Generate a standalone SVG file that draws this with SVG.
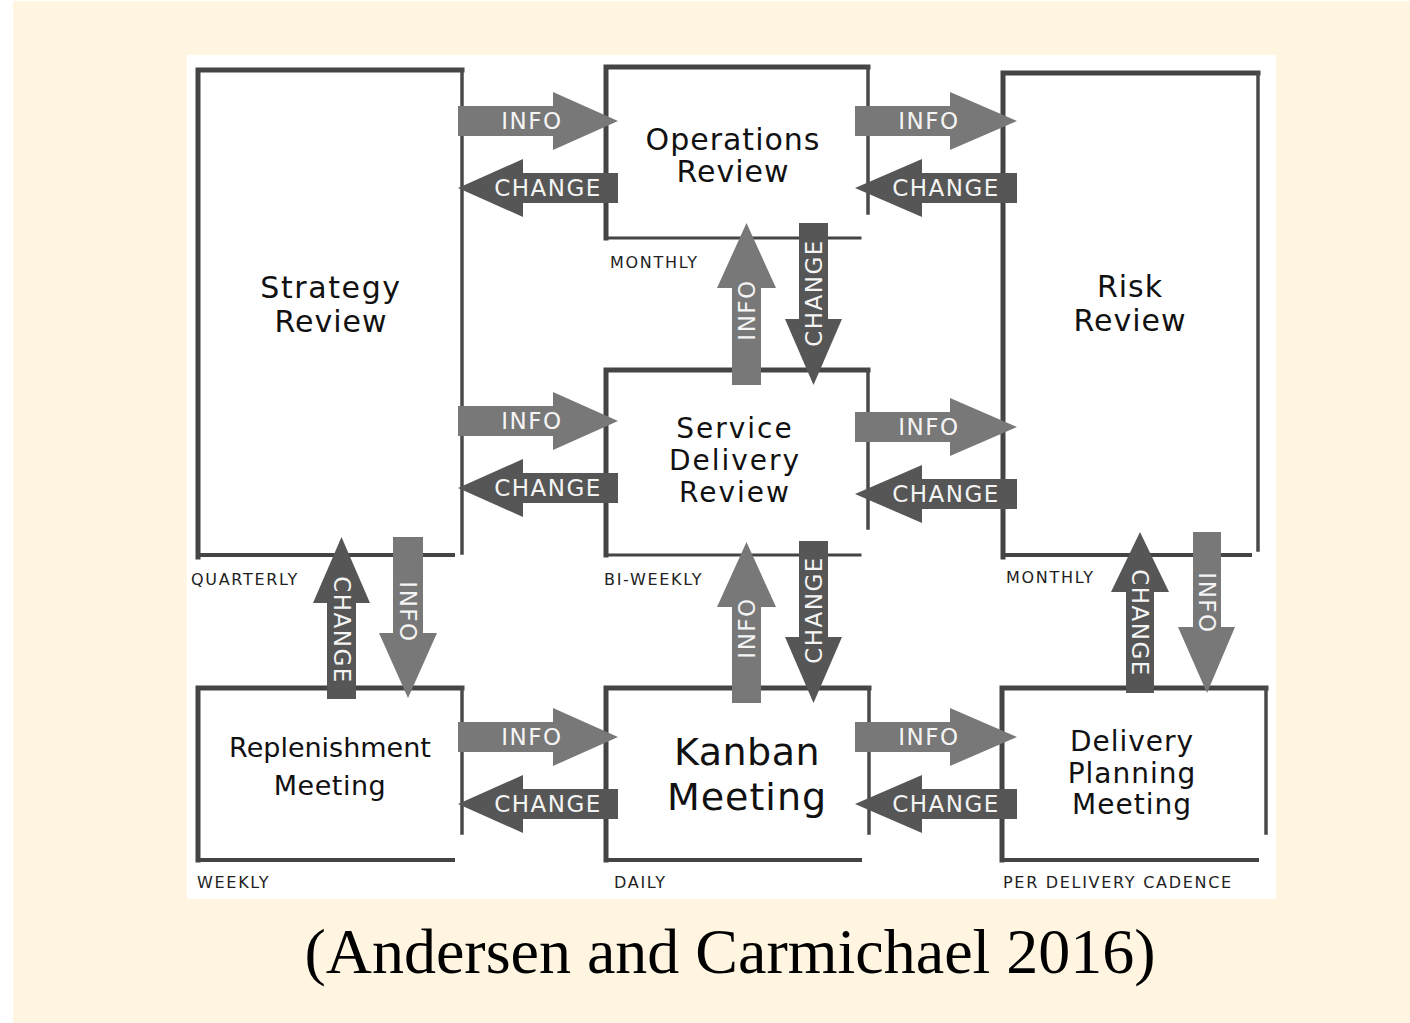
<svg xmlns="http://www.w3.org/2000/svg" width="1410" height="1023" viewBox="0 0 1410 1023">
<style>
.edge{fill:none;stroke:#444;stroke-linecap:square}
.tl{stroke-width:5}
.rt{stroke-width:3.5;stroke:#4a4a4a}
.bt{stroke-width:4}
.title{font-family:"DejaVu Sans",sans-serif;font-size:30px;fill:#111;text-anchor:middle;letter-spacing:1px}
.freq{font-family:"DejaVu Sans",sans-serif;font-size:16px;fill:#222;letter-spacing:1.7px}
.info{fill:#787878}
.chg{fill:#565656}
.lab{font-family:"DejaVu Sans",sans-serif;font-size:23px;fill:#f4f4f4;text-anchor:middle;letter-spacing:1.5px}
</style>
<rect x="0" y="0" width="1410" height="1023" fill="#ffffff"/>
<rect x="13" y="1" width="1397" height="1022" fill="#fff5e1"/>
<rect x="187" y="55" width="1089" height="844" fill="#ffffff"/>

<g id="strategy-review">
<path class="edge tl" d="M198,557 L198,70 L462,70"/>
<path class="edge rt" d="M462,70 L462,553"/>
<path class="edge bt" d="M198,555 L453,555"/>
<text class="title" style="letter-spacing:1.6px" x="331" y="298">Strategy</text>
<text class="title" x="331" y="332">Review</text>
<text class="freq" x="191" y="585">QUARTERLY</text>
</g>

<g id="operations-review">
<path class="edge tl" d="M606,238 L606,67 L868,67"/>
<path class="edge rt" d="M868,67 L868,213"/>
<path class="edge bt" style="stroke-width:3" d="M606,238 L860,238"/>
<text class="title" x="733" y="150">Operations</text>
<text class="title" x="733" y="182">Review</text>
<text class="freq" x="610" y="268">MONTHLY</text>
</g>

<g id="risk-review">
<path class="edge tl" d="M1003,557 L1003,73 L1258,73"/>
<path class="edge rt" d="M1258,73 L1258,550"/>
<path class="edge bt" d="M1003,555 L1250,555"/>
<text class="title" x="1130" y="297">Risk</text>
<text class="title" x="1130" y="331">Review</text>
<text class="freq" x="1006" y="583">MONTHLY</text>
</g>

<g id="service-delivery-review">
<path class="edge tl" d="M606,555 L606,370 L868,370"/>
<path class="edge rt" d="M868,370 L868,528"/>
<path class="edge bt" style="stroke-width:3" d="M606,555 L860,555"/>
<text class="title" style="font-size:28px;letter-spacing:2px" x="735" y="438">Service</text>
<text class="title" style="font-size:28px;letter-spacing:2px" x="735" y="470">Delivery</text>
<text class="title" style="font-size:28px;letter-spacing:2px" x="735" y="502">Review</text>
<text class="freq" x="604" y="585">BI-WEEKLY</text>
</g>

<g id="replenishment-meeting">
<path class="edge tl" d="M198,860 L198,688 L462,688"/>
<path class="edge rt" d="M462,688 L462,833"/>
<path class="edge bt" d="M198,860 L453,860"/>
<text class="title" style="font-size:27px;letter-spacing:0px" x="330" y="757">Replenishment</text>
<text class="title" style="font-size:27px;letter-spacing:0.5px" x="330" y="795">Meeting</text>
<text class="freq" x="197" y="888">WEEKLY</text>
</g>

<g id="kanban-meeting">
<path class="edge tl" d="M606,860 L606,688 L869,688"/>
<path class="edge rt" d="M869,688 L869,833"/>
<path class="edge bt" d="M606,860 L860,860"/>
<text class="title" style="font-size:38px;letter-spacing:0.5px" x="747" y="765">Kanban</text>
<text class="title" style="font-size:38px;letter-spacing:1px" x="747" y="810">Meeting</text>
<text class="freq" x="614" y="888">DAILY</text>
</g>

<g id="delivery-planning-meeting">
<path class="edge tl" d="M1002,860 L1002,688 L1266,688"/>
<path class="edge rt" d="M1266,688 L1266,833"/>
<path class="edge bt" d="M1002,860 L1257,860"/>
<text class="title" style="font-size:28px;letter-spacing:1px" x="1132" y="751">Delivery</text>
<text class="title" style="font-size:28px;letter-spacing:1px" x="1132" y="783">Planning</text>
<text class="title" style="font-size:28px;letter-spacing:1px" x="1132" y="814">Meeting</text>
<text class="freq" x="1003" y="888">PER DELIVERY CADENCE</text>
</g>

<g id="connectors">
<polygon class="info" points="458,106 553,106 553,92 618,121 553,150 553,136 458,136"/>
<text class="lab" x="532" y="129">INFO</text>
<polygon class="chg" points="458,188 523,159 523,173 618,173 618,203 523,203 523,217"/>
<text class="lab" x="548" y="196">CHANGE</text>
<polygon class="info" points="458,406 553,406 553,392 618,421 553,450 553,436 458,436"/>
<text class="lab" x="532" y="429">INFO</text>
<polygon class="chg" points="458,488 523,459 523,473 618,473 618,503 523,503 523,517"/>
<text class="lab" x="548" y="496">CHANGE</text>
<polygon class="info" points="458,722 553,722 553,708 618,737 553,766 553,752 458,752"/>
<text class="lab" x="532" y="745">INFO</text>
<polygon class="chg" points="458,804 523,775 523,789 618,789 618,819 523,819 523,833"/>
<text class="lab" x="548" y="812">CHANGE</text>
<polygon class="info" points="855,106 950,106 950,92 1017,121 950,150 950,136 855,136"/>
<text class="lab" x="929" y="129">INFO</text>
<polygon class="chg" points="855,188 922,159 922,173 1017,173 1017,203 922,203 922,217"/>
<text class="lab" x="946" y="196">CHANGE</text>
<polygon class="info" points="855,412 950,412 950,398 1017,427 950,456 950,442 855,442"/>
<text class="lab" x="929" y="435">INFO</text>
<polygon class="chg" points="855,494 922,465 922,479 1017,479 1017,509 922,509 922,523"/>
<text class="lab" x="946" y="502">CHANGE</text>
<polygon class="info" points="855,722 950,722 950,708 1017,737 950,766 950,752 855,752"/>
<text class="lab" x="929" y="745">INFO</text>
<polygon class="chg" points="855,804 922,775 922,789 1017,789 1017,819 922,819 922,833"/>
<text class="lab" x="946" y="812">CHANGE</text>
<polygon class="info" points="746.5,223 776,288 761,288 761,385 732,385 732,288 717,288"/>
<text class="lab" transform="translate(746.5,310) rotate(-90)" y="8">INFO</text>
<polygon class="chg" points="799,223 828,223 828,319 842,319 813.5,385 785,319 799,319"/>
<text class="lab" transform="translate(813.5,293) rotate(-90)" y="8">CHANGE</text>
<polygon class="info" points="746.5,542 776,607 761,607 761,703 732,703 732,607 717,607"/>
<text class="lab" transform="translate(746.5,628) rotate(-90)" y="8">INFO</text>
<polygon class="chg" points="799,541 828,541 828,637 842,637 813.5,703 785,637 799,637"/>
<text class="lab" transform="translate(813.5,610) rotate(-90)" y="8">CHANGE</text>
<polygon class="chg" points="341.5,537 370,603 356,603 356,699 327,699 327,603 313,603"/>
<text class="lab" transform="translate(341.5,630) rotate(90)" y="8">CHANGE</text>
<polygon class="info" points="393,537 423,537 423,633 437,633 408,698 379,633 393,633"/>
<text class="lab" transform="translate(408,612) rotate(90)" y="8">INFO</text>
<polygon class="chg" points="1140,532 1169,592 1154,592 1154,693 1126,693 1126,592 1111,592"/>
<text class="lab" transform="translate(1140,623) rotate(90)" y="8">CHANGE</text>
<polygon class="info" points="1193,532 1221,532 1221,627 1235,627 1207,693 1178,627 1193,627"/>
<text class="lab" transform="translate(1207,603) rotate(90)" y="8">INFO</text>
</g>

<text x="730" y="973" font-family="'Liberation Serif',serif" font-size="64" fill="#000" text-anchor="middle">(Andersen and Carmichael 2016)</text>
</svg>
